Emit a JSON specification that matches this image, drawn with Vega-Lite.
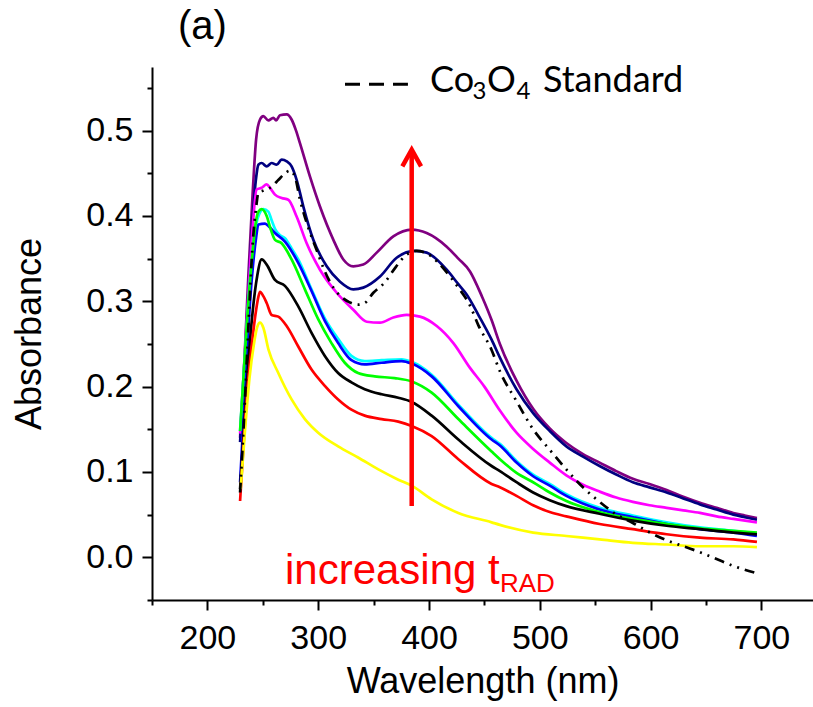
{
  "$schema": "https://vega.github.io/schema/vega-lite/v6.json",
  "width": 661,
  "height": 533,
  "autosize": {"type": "none"},
  "padding": {"left": 152, "top": 67, "right": 0, "bottom": 107},
  "background": "white",
  "title": {"text": "(a)", "anchor": "start", "frame": "group", "dx": 26, "offset": -16, "baseline": "alphabetic", "font": "Liberation Sans", "fontSize": 40, "fontWeight": "normal", "color": "black"},
  "config": {
    "view": {"stroke": null},
    "axis": {"grid": false, "domainColor": "black", "domainWidth": 2, "tickColor": "black", "tickWidth": 2, "labelFont": "Liberation Sans", "labelFontSize": 34, "labelColor": "black", "titleFont": "Liberation Sans", "titleFontSize": 36, "titleFontWeight": "normal", "titleColor": "black", "labelOverlap": false, "labelFlush": false}
  },
  "datasets": {
    "curves": [
      {"series":"purple","wl":229.5,"abs":0.140},{"series":"purple","wl":233,"abs":0.22},{"series":"purple","wl":237,"abs":0.33},{"series":"purple","wl":241,"abs":0.43},{"series":"purple","wl":244,"abs":0.49},{"series":"purple","wl":247.5,"abs":0.513},{"series":"purple","wl":250.5,"abs":0.517},{"series":"purple","wl":255,"abs":0.512},{"series":"purple","wl":259.5,"abs":0.515},{"series":"purple","wl":262,"abs":0.512},{"series":"purple","wl":265.5,"abs":0.518},{"series":"purple","wl":271.6,"abs":0.519},{"series":"purple","wl":276,"abs":0.513},{"series":"purple","wl":280,"abs":0.5},{"series":"purple","wl":283.6,"abs":0.485},{"series":"purple","wl":292.6,"abs":0.446},{"series":"purple","wl":301.6,"abs":0.411},{"series":"purple","wl":313.7,"abs":0.372},{"series":"purple","wl":322.7,"abs":0.349},{"series":"purple","wl":331.7,"abs":0.341},{"series":"purple","wl":340.7,"abs":0.343},{"series":"purple","wl":352.8,"abs":0.357},{"series":"purple","wl":367.8,"abs":0.376},{"series":"purple","wl":384.4,"abs":0.384},{"series":"purple","wl":397.9,"abs":0.38},{"series":"purple","wl":416,"abs":0.364},{"series":"purple","wl":426.5,"abs":0.35},{"series":"purple","wl":437,"abs":0.335},{"series":"purple","wl":448,"abs":0.305},{"series":"purple","wl":456.5,"abs":0.278},{"series":"purple","wl":464,"abs":0.25},{"series":"purple","wl":479,"abs":0.207},{"series":"purple","wl":494,"abs":0.174},{"series":"purple","wl":509,"abs":0.151},{"series":"purple","wl":524,"abs":0.134},{"series":"purple","wl":539,"abs":0.121},{"series":"purple","wl":554,"abs":0.111},{"series":"purple","wl":569,"abs":0.101},{"series":"purple","wl":584,"abs":0.092},{"series":"purple","wl":599,"abs":0.086},{"series":"purple","wl":614.5,"abs":0.079},{"series":"purple","wl":629.5,"abs":0.071},{"series":"purple","wl":644.6,"abs":0.064},{"series":"purple","wl":659.6,"abs":0.058},{"series":"purple","wl":674.7,"abs":0.052},{"series":"purple","wl":685,"abs":0.049},{"series":"purple","wl":696,"abs":0.046},
      {"series":"navy","wl":229.5,"abs":0.135},{"series":"navy","wl":233,"abs":0.21},{"series":"navy","wl":237,"abs":0.31},{"series":"navy","wl":241,"abs":0.4},{"series":"navy","wl":244,"abs":0.445},{"series":"navy","wl":246,"abs":0.46},{"series":"navy","wl":249,"abs":0.462},{"series":"navy","wl":253.5,"abs":0.458},{"series":"navy","wl":258,"abs":0.462},{"series":"navy","wl":262.5,"abs":0.46},{"series":"navy","wl":267,"abs":0.466},{"series":"navy","wl":271.6,"abs":0.464},{"series":"navy","wl":276,"abs":0.458},{"series":"navy","wl":280.6,"abs":0.442},{"series":"navy","wl":286.6,"abs":0.411},{"series":"navy","wl":295.6,"abs":0.372},{"series":"navy","wl":307.7,"abs":0.341},{"series":"navy","wl":319.7,"abs":0.323},{"series":"navy","wl":331.7,"abs":0.314},{"series":"navy","wl":340.7,"abs":0.316},{"series":"navy","wl":355.8,"abs":0.329},{"series":"navy","wl":370.8,"abs":0.351},{"series":"navy","wl":387.4,"abs":0.359},{"series":"navy","wl":397.9,"abs":0.357},{"series":"navy","wl":416,"abs":0.337},{"series":"navy","wl":426.5,"abs":0.32},{"series":"navy","wl":434,"abs":0.308},{"series":"navy","wl":445,"abs":0.283},{"series":"navy","wl":456.5,"abs":0.255},{"series":"navy","wl":464,"abs":0.234},{"series":"navy","wl":479,"abs":0.197},{"series":"navy","wl":494,"abs":0.169},{"series":"navy","wl":509,"abs":0.148},{"series":"navy","wl":524,"abs":0.13},{"series":"navy","wl":539,"abs":0.118},{"series":"navy","wl":554,"abs":0.107},{"series":"navy","wl":569,"abs":0.097},{"series":"navy","wl":584,"abs":0.088},{"series":"navy","wl":599,"abs":0.082},{"series":"navy","wl":614.5,"abs":0.076},{"series":"navy","wl":629.5,"abs":0.069},{"series":"navy","wl":644.6,"abs":0.062},{"series":"navy","wl":659.6,"abs":0.056},{"series":"navy","wl":674.7,"abs":0.05},{"series":"navy","wl":685,"abs":0.047},{"series":"navy","wl":696,"abs":0.044},
      {"series":"magenta","wl":229.5,"abs":0.145},{"series":"magenta","wl":233,"abs":0.22},{"series":"magenta","wl":237,"abs":0.31},{"series":"magenta","wl":241,"abs":0.39},{"series":"magenta","wl":244.5,"abs":0.431},{"series":"magenta","wl":249,"abs":0.433},{"series":"magenta","wl":253.5,"abs":0.437},{"series":"magenta","wl":256.5,"abs":0.433},{"series":"magenta","wl":261,"abs":0.425},{"series":"magenta","wl":267,"abs":0.421},{"series":"magenta","wl":273,"abs":0.419},{"series":"magenta","wl":280.6,"abs":0.399},{"series":"magenta","wl":289.6,"abs":0.368},{"series":"magenta","wl":301.6,"abs":0.337},{"series":"magenta","wl":316.7,"abs":0.31},{"series":"magenta","wl":331.7,"abs":0.29},{"series":"magenta","wl":343.8,"abs":0.276},{"series":"magenta","wl":355.8,"abs":0.275},{"series":"magenta","wl":367.8,"abs":0.281},{"series":"magenta","wl":379.9,"abs":0.284},{"series":"magenta","wl":391.9,"abs":0.282},{"series":"magenta","wl":407,"abs":0.271},{"series":"magenta","wl":422,"abs":0.251},{"series":"magenta","wl":437,"abs":0.222},{"series":"magenta","wl":450,"abs":0.2},{"series":"magenta","wl":464,"abs":0.172},{"series":"magenta","wl":479,"abs":0.146},{"series":"magenta","wl":494,"abs":0.127},{"series":"magenta","wl":509,"abs":0.111},{"series":"magenta","wl":524,"abs":0.096},{"series":"magenta","wl":539,"abs":0.085},{"series":"magenta","wl":554,"abs":0.077},{"series":"magenta","wl":569,"abs":0.07},{"series":"magenta","wl":584,"abs":0.065},{"series":"magenta","wl":599,"abs":0.061},{"series":"magenta","wl":614.5,"abs":0.058},{"series":"magenta","wl":629.5,"abs":0.055},{"series":"magenta","wl":644.6,"abs":0.052},{"series":"magenta","wl":659.6,"abs":0.048},{"series":"magenta","wl":674.7,"abs":0.045},{"series":"magenta","wl":696,"abs":0.041},
      {"series":"cyan","wl":229.5,"abs":0.148},{"series":"cyan","wl":233,"abs":0.22},{"series":"cyan","wl":237,"abs":0.3},{"series":"cyan","wl":241,"abs":0.36},{"series":"cyan","wl":244,"abs":0.39},{"series":"cyan","wl":247,"abs":0.403},{"series":"cyan","wl":250.5,"abs":0.408},{"series":"cyan","wl":255,"abs":0.405},{"series":"cyan","wl":258,"abs":0.395},{"series":"cyan","wl":261,"abs":0.385},{"series":"cyan","wl":265,"abs":0.378},{"series":"cyan","wl":270,"abs":0.374},{"series":"cyan","wl":276,"abs":0.362},{"series":"cyan","wl":282,"abs":0.349},{"series":"cyan","wl":294,"abs":0.314},{"series":"cyan","wl":306,"abs":0.28},{"series":"cyan","wl":318,"abs":0.256},{"series":"cyan","wl":330,"abs":0.236},{"series":"cyan","wl":342,"abs":0.23},{"series":"cyan","wl":357.3,"abs":0.231},{"series":"cyan","wl":375.3,"abs":0.232},{"series":"cyan","wl":384.4,"abs":0.229},{"series":"cyan","wl":402.4,"abs":0.214},{"series":"cyan","wl":426.5,"abs":0.179},{"series":"cyan","wl":456.5,"abs":0.14},{"series":"cyan","wl":464,"abs":0.133},{"series":"cyan","wl":479,"abs":0.113},{"series":"cyan","wl":494,"abs":0.097},{"series":"cyan","wl":509,"abs":0.086},{"series":"cyan","wl":524,"abs":0.074},{"series":"cyan","wl":554,"abs":0.058},{"series":"cyan","wl":584,"abs":0.049},{"series":"cyan","wl":614.5,"abs":0.041},{"series":"cyan","wl":644.6,"abs":0.035},{"series":"cyan","wl":674.7,"abs":0.031},{"series":"cyan","wl":696,"abs":0.028},
      {"series":"blue","wl":229.5,"abs":0.088},{"series":"blue","wl":233,"abs":0.17},{"series":"blue","wl":237,"abs":0.27},{"series":"blue","wl":241,"abs":0.34},{"series":"blue","wl":244,"abs":0.375},{"series":"blue","wl":246,"abs":0.39},{"series":"blue","wl":252,"abs":0.391},{"series":"blue","wl":256,"abs":0.387},{"series":"blue","wl":261,"abs":0.38},{"series":"blue","wl":270,"abs":0.37},{"series":"blue","wl":282,"abs":0.345},{"series":"blue","wl":294,"abs":0.312},{"series":"blue","wl":306,"abs":0.277},{"series":"blue","wl":318,"abs":0.251},{"series":"blue","wl":330,"abs":0.231},{"series":"blue","wl":342,"abs":0.226},{"series":"blue","wl":357.3,"abs":0.228},{"series":"blue","wl":375.3,"abs":0.23},{"series":"blue","wl":384.4,"abs":0.227},{"series":"blue","wl":402.4,"abs":0.212},{"series":"blue","wl":426.5,"abs":0.177},{"series":"blue","wl":456.5,"abs":0.138},{"series":"blue","wl":464,"abs":0.131},{"series":"blue","wl":479,"abs":0.111},{"series":"blue","wl":494,"abs":0.095},{"series":"blue","wl":509,"abs":0.084},{"series":"blue","wl":524,"abs":0.072},{"series":"blue","wl":554,"abs":0.056},{"series":"blue","wl":584.4,"abs":0.047},{"series":"blue","wl":614.5,"abs":0.039},{"series":"blue","wl":644.6,"abs":0.033},{"series":"blue","wl":674.7,"abs":0.029},{"series":"blue","wl":696,"abs":0.025},
      {"series":"green","wl":229.5,"abs":0.148},{"series":"green","wl":233,"abs":0.22},{"series":"green","wl":237,"abs":0.3},{"series":"green","wl":241,"abs":0.36},{"series":"green","wl":244,"abs":0.395},{"series":"green","wl":246,"abs":0.405},{"series":"green","wl":249,"abs":0.408},{"series":"green","wl":253.5,"abs":0.4},{"series":"green","wl":257,"abs":0.385},{"series":"green","wl":261,"abs":0.372},{"series":"green","wl":267,"abs":0.368},{"series":"green","wl":276,"abs":0.349},{"series":"green","wl":288,"abs":0.314},{"series":"green","wl":300,"abs":0.279},{"series":"green","wl":312,"abs":0.251},{"series":"green","wl":324,"abs":0.228},{"series":"green","wl":336,"abs":0.216},{"series":"green","wl":351,"abs":0.212},{"series":"green","wl":369,"abs":0.21},{"series":"green","wl":384.4,"abs":0.206},{"series":"green","wl":402.4,"abs":0.193},{"series":"green","wl":426.5,"abs":0.162},{"series":"green","wl":456.5,"abs":0.124},{"series":"green","wl":464,"abs":0.115},{"series":"green","wl":479,"abs":0.099},{"series":"green","wl":494,"abs":0.088},{"series":"green","wl":509,"abs":0.076},{"series":"green","wl":524,"abs":0.066},{"series":"green","wl":554,"abs":0.053},{"series":"green","wl":584,"abs":0.045},{"series":"green","wl":614.5,"abs":0.039},{"series":"green","wl":644.6,"abs":0.034},{"series":"green","wl":674.7,"abs":0.031},{"series":"green","wl":696,"abs":0.029},
      {"series":"black","wl":229.5,"abs":0.08},{"series":"black","wl":233,"abs":0.15},{"series":"black","wl":237,"abs":0.23},{"series":"black","wl":241,"abs":0.29},{"series":"black","wl":245,"abs":0.33},{"series":"black","wl":249,"abs":0.349},{"series":"black","wl":253.5,"abs":0.343},{"series":"black","wl":261,"abs":0.325},{"series":"black","wl":270,"abs":0.318},{"series":"black","wl":282,"abs":0.294},{"series":"black","wl":294,"abs":0.263},{"series":"black","wl":306,"abs":0.236},{"series":"black","wl":318,"abs":0.216},{"series":"black","wl":330,"abs":0.205},{"series":"black","wl":342,"abs":0.197},{"series":"black","wl":357.3,"abs":0.191},{"series":"black","wl":372.3,"abs":0.187},{"series":"black","wl":384.4,"abs":0.182},{"series":"black","wl":402.4,"abs":0.166},{"series":"black","wl":426.5,"abs":0.138},{"series":"black","wl":456.5,"abs":0.107},{"series":"black","wl":464,"abs":0.101},{"series":"black","wl":479,"abs":0.088},{"series":"black","wl":494,"abs":0.076},{"series":"black","wl":509,"abs":0.067},{"series":"black","wl":524,"abs":0.06},{"series":"black","wl":554,"abs":0.051},{"series":"black","wl":584,"abs":0.043},{"series":"black","wl":614.5,"abs":0.037},{"series":"black","wl":644.6,"abs":0.033},{"series":"black","wl":674.7,"abs":0.029},{"series":"black","wl":696,"abs":0.027},
      {"series":"red","wl":229.5,"abs":0.066},{"series":"red","wl":233,"abs":0.14},{"series":"red","wl":237,"abs":0.21},{"series":"red","wl":241,"abs":0.26},{"series":"red","wl":244,"abs":0.29},{"series":"red","wl":246,"abs":0.305},{"series":"red","wl":247.5,"abs":0.311},{"series":"red","wl":250.5,"abs":0.306},{"series":"red","wl":253.5,"abs":0.298},{"series":"red","wl":258,"abs":0.284},{"series":"red","wl":264,"abs":0.282},{"series":"red","wl":271.5,"abs":0.271},{"series":"red","wl":282,"abs":0.247},{"series":"red","wl":294,"abs":0.22},{"series":"red","wl":306,"abs":0.201},{"series":"red","wl":318,"abs":0.185},{"series":"red","wl":330,"abs":0.173},{"series":"red","wl":342,"abs":0.166},{"series":"red","wl":357.3,"abs":0.162},{"series":"red","wl":372.3,"abs":0.159},{"series":"red","wl":384.4,"abs":0.154},{"series":"red","wl":402.4,"abs":0.142},{"series":"red","wl":426.5,"abs":0.115},{"series":"red","wl":456.5,"abs":0.086},{"series":"red","wl":464,"abs":0.082},{"series":"red","wl":479,"abs":0.072},{"series":"red","wl":494,"abs":0.061},{"series":"red","wl":509,"abs":0.053},{"series":"red","wl":524,"abs":0.048},{"series":"red","wl":554,"abs":0.039},{"series":"red","wl":584,"abs":0.033},{"series":"red","wl":614.5,"abs":0.027},{"series":"red","wl":644.6,"abs":0.023},{"series":"red","wl":674.7,"abs":0.021},{"series":"red","wl":696,"abs":0.018},
      {"series":"yellow","wl":230,"abs":0.08},{"series":"yellow","wl":234,"abs":0.15},{"series":"yellow","wl":238,"abs":0.21},{"series":"yellow","wl":242,"abs":0.25},{"series":"yellow","wl":245,"abs":0.27},{"series":"yellow","wl":247.5,"abs":0.275},{"series":"yellow","wl":250.5,"abs":0.269},{"series":"yellow","wl":255,"abs":0.244},{"series":"yellow","wl":264,"abs":0.216},{"series":"yellow","wl":276,"abs":0.185},{"series":"yellow","wl":288,"abs":0.162},{"series":"yellow","wl":300,"abs":0.146},{"series":"yellow","wl":318,"abs":0.13},{"series":"yellow","wl":336,"abs":0.117},{"series":"yellow","wl":354.3,"abs":0.103},{"series":"yellow","wl":372.3,"abs":0.091},{"series":"yellow","wl":384.4,"abs":0.084},{"series":"yellow","wl":402.4,"abs":0.068},{"series":"yellow","wl":426.5,"abs":0.052},{"series":"yellow","wl":456.5,"abs":0.041},{"series":"yellow","wl":464,"abs":0.038},{"series":"yellow","wl":494,"abs":0.029},{"series":"yellow","wl":524,"abs":0.025},{"series":"yellow","wl":554,"abs":0.021},{"series":"yellow","wl":584,"abs":0.017},{"series":"yellow","wl":614.5,"abs":0.015},{"series":"yellow","wl":644.6,"abs":0.013},{"series":"yellow","wl":674.7,"abs":0.013},{"series":"yellow","wl":696,"abs":0.012}
    ],
    "standard": [
      {"wl":229.5,"abs":0.076},{"wl":233,"abs":0.16},{"wl":237,"abs":0.27},{"wl":241,"abs":0.37},{"wl":244,"abs":0.41},{"wl":246,"abs":0.427},{"wl":251,"abs":0.43},{"wl":256.5,"abs":0.433},{"wl":264,"abs":0.442},{"wl":270,"abs":0.45},{"wl":274.6,"abs":0.453},{"wl":279,"abs":0.446},{"wl":283.6,"abs":0.419},{"wl":289.6,"abs":0.392},{"wl":298.6,"abs":0.36},{"wl":306,"abs":0.335},{"wl":313.7,"abs":0.316},{"wl":321,"abs":0.305},{"wl":328,"abs":0.299},{"wl":336,"abs":0.296},{"wl":342,"abs":0.298},{"wl":349.8,"abs":0.31},{"wl":360,"abs":0.322},{"wl":370,"abs":0.34},{"wl":378.3,"abs":0.353},{"wl":388.9,"abs":0.359},{"wl":397.9,"abs":0.356},{"wl":416,"abs":0.334},{"wl":426.5,"abs":0.316},{"wl":437,"abs":0.295},{"wl":444.5,"abs":0.272},{"wl":456.5,"abs":0.243},{"wl":464,"abs":0.218},{"wl":479,"abs":0.183},{"wl":494,"abs":0.15},{"wl":509,"abs":0.126},{"wl":524,"abs":0.103},{"wl":539,"abs":0.082},{"wl":554,"abs":0.065},{"wl":569.4,"abs":0.05},{"wl":584.4,"abs":0.04},{"wl":599.5,"abs":0.029},{"wl":614.5,"abs":0.02},{"wl":629.5,"abs":0.013},{"wl":644.6,"abs":0.006},{"wl":659.6,"abs":-0.002},{"wl":674.7,"abs":-0.01},{"wl":694,"abs":-0.018}
    ]
  },
  "layer": [
    {
      "data": {"name": "curves"},
      "mark": {"type": "line", "strokeWidth": 2.7, "interpolate": "monotone"},
      "encoding": {
        "x": {"field": "wl", "type": "quantitative", "scale": {"domain": [150, 746.6], "nice": false, "zero": false},
          "axis": {"title": "Wavelength (nm)", "values": [150, 200, 250, 300, 350, 400, 450, 500, 550, 600, 650, 700],
            "tickSize": {"condition": {"test": "datum.value % 100 === 0", "value": 10}, "value": 5},
            "labelExpr": "datum.value % 100 === 0 ? datum.label : ''", "format": "d", "labelPadding": 11, "titlePadding": 9}},
        "y": {"field": "abs", "type": "quantitative", "scale": {"domain": [-0.05, 0.5745], "nice": false, "zero": false},
          "axis": {"title": "Absorbance", "values": [-0.05, 0, 0.05, 0.1, 0.15, 0.2, 0.25, 0.3, 0.35, 0.4, 0.45, 0.5, 0.55],
            "tickSize": {"condition": {"test": "abs(round(datum.value * 100)) % 10 === 0", "value": 10}, "value": 5},
            "labelExpr": "abs(round(datum.value * 100)) % 10 === 0 ? datum.label : ''", "format": ".1f", "labelPadding": 9, "titlePadding": 37}},
        "color": {"field": "series", "type": "nominal", "legend": null,
          "scale": {"domain": ["purple", "navy", "magenta", "cyan", "blue", "green", "black", "red", "yellow"],
            "range": ["#800080", "#000080", "#FF00FF", "#00FFFF", "#0000FF", "#00FF00", "#000000", "#FF0000", "#FFFF00"]}}
      }
    },
    {
      "data": {"name": "standard"},
      "mark": {"type": "line", "strokeWidth": 2.7, "color": "black", "strokeDash": [10, 6, 2, 6, 2, 6], "interpolate": "monotone"},
      "encoding": {
        "x": {"field": "wl", "type": "quantitative", "title": "Wavelength (nm)"},
        "y": {"field": "abs", "type": "quantitative", "title": "Absorbance"}
      }
    },
    {
      "data": {"values": [{}]},
      "mark": {"type": "rule", "color": "#FF0000", "strokeWidth": 4.5},
      "encoding": {
        "x": {"datum": 384.4, "type": "quantitative", "title": "Wavelength (nm)"},
        "y": {"datum": 0.06, "type": "quantitative", "title": "Absorbance"},
        "y2": {"datum": 0.475}
      }
    },
    {
      "data": {"values": [{}]},
      "mark": {"type": "point", "shape": "M -0.56 1 L 0 0 L 0.56 1", "size": 1115, "filled": false, "stroke": "#FF0000", "strokeWidth": 4.5, "opacity": 1, "strokeJoin": "miter"},
      "encoding": {
        "x": {"datum": 384.4, "type": "quantitative", "title": "Wavelength (nm)"},
        "y": {"datum": 0.4776, "type": "quantitative", "title": "Absorbance"}
      }
    },
    {
      "data": {"values": [{}]},
      "mark": {"type": "rule", "color": "black", "strokeWidth": 3, "strokeDash": [15, 9]},
      "encoding": {
        "x": {"datum": 324.2, "type": "quantitative", "title": "Wavelength (nm)"},
        "x2": {"datum": 381},
        "y": {"datum": 0.5544, "type": "quantitative", "title": "Absorbance"}
      }
    },
    {
      "data": {"values": [{"t": "Co", "wl": 400.9, "abs": 0.5457}, {"t": "O", "wl": 452.3, "abs": 0.5457}, {"t": "Standard", "wl": 502.9, "abs": 0.5457}]},
      "mark": {"type": "text", "font": "Lato", "fontSize": 36, "align": "left", "baseline": "alphabetic", "color": "black"},
      "encoding": {
        "x": {"field": "wl", "type": "quantitative", "title": "Wavelength (nm)"},
        "y": {"field": "abs", "type": "quantitative", "title": "Absorbance"},
        "text": {"field": "t"}
      }
    },
    {
      "data": {"values": [{"t": "3", "wl": 439.3, "abs": 0.5365}, {"t": "4", "wl": 479, "abs": 0.5365}]},
      "mark": {"type": "text", "font": "Lato", "fontSize": 24, "align": "left", "baseline": "alphabetic", "color": "black"},
      "encoding": {
        "x": {"field": "wl", "type": "quantitative", "title": "Wavelength (nm)"},
        "y": {"field": "abs", "type": "quantitative", "title": "Absorbance"},
        "text": {"field": "t"}
      }
    },
    {
      "data": {"values": [{"t": "increasing t", "wl": 270, "abs": -0.0312}]},
      "mark": {"type": "text", "font": "Liberation Sans", "fontSize": 42, "align": "left", "baseline": "alphabetic", "color": "#FF0000"},
      "encoding": {
        "x": {"field": "wl", "type": "quantitative", "title": "Wavelength (nm)"},
        "y": {"field": "abs", "type": "quantitative", "title": "Absorbance"},
        "text": {"field": "t"}
      }
    },
    {
      "data": {"values": [{"t": "RAD", "wl": 464.1, "abs": -0.0409}]},
      "mark": {"type": "text", "font": "Liberation Sans", "fontSize": 26, "align": "left", "baseline": "alphabetic", "color": "#FF0000"},
      "encoding": {
        "x": {"field": "wl", "type": "quantitative", "title": "Wavelength (nm)"},
        "y": {"field": "abs", "type": "quantitative", "title": "Absorbance"},
        "text": {"field": "t"}
      }
    }
  ]
}
